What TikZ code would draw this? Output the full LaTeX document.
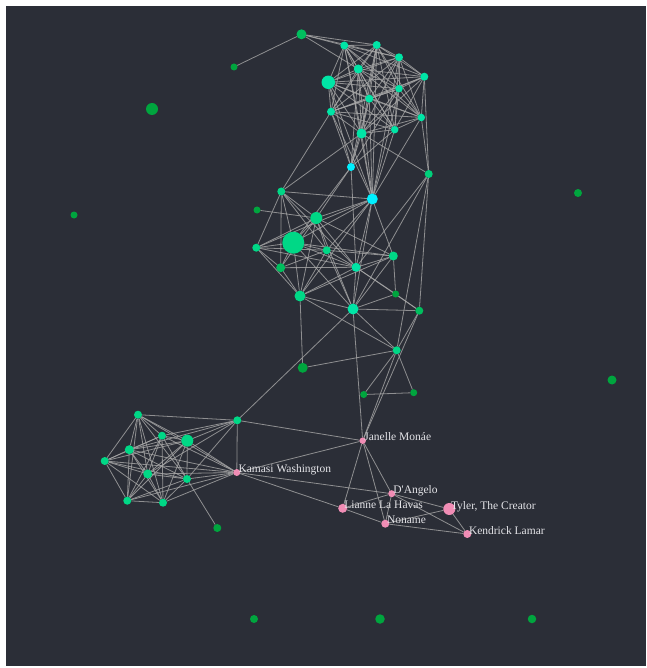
\documentclass[tikz,border=0pt]{standalone}
\usepackage{fontspec}
\setmainfont{Liberation Serif}
\pgfdeclarelayer{bglayer}
\pgfdeclarelayer{edgelayer}
\pgfsetlayers{bglayer,edgelayer,main}
\definecolor{bg}{HTML}{2B2E37}
\definecolor{tealn}{HTML}{00E5A6}
\definecolor{greenn}{HTML}{00D886}
\definecolor{midn}{HTML}{00BF5E}
\definecolor{darkn}{HTML}{00A53E}
\definecolor{cyann}{HTML}{00F0FF}
\definecolor{pinkn}{HTML}{F08DB5}
\definecolor{edgec}{HTML}{A8A8A8}
\definecolor{txt}{HTML}{E4E4E8}
\begin{document}
\begin{tikzpicture}[x=1pt,y=-1pt,
  nd/.style={circle,inner sep=0pt,outer sep=0pt,minimum size=#1,draw=none},
  edge/.style={draw=edgec,line width=0.8pt,opacity=0.8},
  lbl/.style={anchor=base west,inner sep=0pt,text=txt,font=\fontsize{11.5}{13}\selectfont}]
\useasboundingbox (0,0) rectangle (646,668);
\begin{pgfonlayer}{bglayer}
\fill[white] (0,0) rectangle (646,668);
\fill[bg] (6,6) rectangle (646,666);
\end{pgfonlayer}
% isolated
\node[nd=7pt,fill=darkn] (i1) at (234,67) {};
\node[nd=12pt,fill=darkn] (i2) at (152,109) {};
\node[nd=7pt,fill=darkn] (i3) at (74,215) {};
\node[nd=8pt,fill=darkn] (i4) at (578,193) {};
\node[nd=9pt,fill=darkn] (i5) at (612,380) {};
\node[nd=8pt,fill=darkn] (i6) at (254,619) {};
\node[nd=9.5pt,fill=darkn] (i7) at (380,619) {};
\node[nd=8.5pt,fill=darkn] (i8) at (532,619) {};
% top cluster
\node[nd=10pt,fill=midn] (a1) at (301.5,34.3) {};
\node[nd=8pt,fill=tealn] (a2) at (344.3,45.5) {};
\node[nd=8pt,fill=tealn] (a3) at (376.7,45) {};
\node[nd=8pt,fill=tealn] (a4) at (399,57.3) {};
\node[nd=8pt,fill=tealn] (a5) at (424.3,76.7) {};
\node[nd=13.5pt,fill=tealn] (a6) at (328.3,82.3) {};
\node[nd=9pt,fill=tealn] (a7) at (358.3,69) {};
\node[nd=7.5pt,fill=tealn] (a8) at (399,88.7) {};
\node[nd=8pt,fill=tealn] (a9) at (369.3,98.7) {};
\node[nd=8pt,fill=tealn] (a10) at (331,111.7) {};
\node[nd=7.5pt,fill=tealn] (a11) at (421.3,117.5) {};
\node[nd=10pt,fill=tealn] (a12) at (361.5,133.5) {};
\node[nd=7.5pt,fill=tealn] (a13) at (394.7,129.7) {};
% middle cluster
\node[nd=8pt,fill=cyann] (b1) at (351,167) {};
\node[nd=11pt,fill=cyann] (b2) at (372.3,199) {};
\node[nd=8pt,fill=greenn!85!darkn] (b3) at (428.7,174) {};
\node[nd=8pt,fill=greenn] (b4) at (281.3,191.5) {};
\node[nd=7pt,fill=darkn] (b5) at (257,210) {};
\node[nd=12pt,fill=greenn] (b6) at (316.3,218) {};
\node[nd=22pt,fill=greenn] (b7) at (293.3,242.7) {};
\node[nd=8pt,fill=greenn] (b8) at (256.3,247.7) {};
\node[nd=8pt,fill=greenn] (b9) at (326.7,250.3) {};
\node[nd=9pt,fill=greenn] (b10) at (393.3,256) {};
\node[nd=9pt,fill=midn] (b11) at (280.7,267.7) {};
\node[nd=9pt,fill=tealn] (b12) at (356,267.3) {};
\node[nd=11pt,fill=greenn] (b13) at (300,296) {};
\node[nd=7pt,fill=darkn] (b14) at (395.7,294) {};
\node[nd=11pt,fill=tealn] (b15) at (353,309) {};
\node[nd=8pt,fill=midn] (b16) at (419.3,310.7) {};
\node[nd=8pt,fill=greenn] (c1) at (396.7,350.3) {};
\node[nd=10pt,fill=darkn] (c2) at (302.7,367.8) {};
\node[nd=7pt,fill=darkn] (c3) at (363.7,394.5) {};
\node[nd=7pt,fill=darkn] (c4) at (413.7,392.7) {};
% left cluster
\node[nd=8pt,fill=greenn] (d1) at (138,414.7) {};
\node[nd=8pt,fill=greenn] (d2) at (237.3,420.3) {};
\node[nd=8pt,fill=greenn] (d3) at (162,435.7) {};
\node[nd=12pt,fill=greenn] (d4) at (187.3,440.7) {};
\node[nd=9pt,fill=greenn] (d5) at (129.3,449.7) {};
\node[nd=8pt,fill=greenn] (d6) at (104.7,461) {};
\node[nd=9pt,fill=greenn] (d7) at (147.7,474) {};
\node[nd=8pt,fill=greenn] (d8) at (187,479) {};
\node[nd=8pt,fill=greenn] (d9) at (127.3,500.7) {};
\node[nd=8pt,fill=greenn] (d10) at (163,502.7) {};
\node[nd=8pt,fill=darkn] (d11) at (217.3,528) {};
% pink
\node[nd=6.5pt,fill=pinkn] (jan) at (362.7,440.7) {};
\node[nd=7pt,fill=pinkn] (kam) at (236.8,472.5) {};
\node[nd=7pt,fill=pinkn] (dan) at (391.7,493.7) {};
\node[nd=9pt,fill=pinkn] (lia) at (342.7,508.3) {};
\node[nd=12pt,fill=pinkn] (tyl) at (449.3,509) {};
\node[nd=8pt,fill=pinkn] (non) at (385.3,523.7) {};
\node[nd=8pt,fill=pinkn] (ken) at (467.3,534) {};
% edges
\begin{pgfonlayer}{edgelayer}
\foreach \i in {2,...,12}{
  \pgfmathtruncatemacro\s{\i+1}
  \foreach \j in {\s,...,13}{\draw[edge] (a\i) -- (a\j);}}
\foreach \i in {1,3,4,5,6,7,8,9,10}{
  \foreach \j in {1,3,4,5,6,7,8,9,10}{
    \ifnum\i<\j \draw[edge] (d\i) -- (d\j);\fi}}
\foreach \a/\b in {a1/a2,a1/a3,a1/a4,a1/a7,a1/i1,
  b1/a6,b1/a7,b1/a9,b1/a10,b1/a12,b1/a13,b1/a8,b1/a3,
  b2/a2,b2/a3,b2/a4,b2/a6,b2/a7,b2/a8,b2/a9,b2/a10,b2/a12,b2/a13,b2/a11,
  b3/a5,b3/a11,b3/a12,b3/b12,b3/b16,b3/c1,b3/b15,
  b4/a10,b4/a12,b4/b2,b4/b6,b4/b7,b4/b8,b4/b11,b4/b9,b4/b12,
  b5/b6,
  b6/b1,b6/b2,b6/b7,b6/b8,b6/b9,b6/b11,b6/b12,b6/b13,b6/b15,b6/b10,
  b7/b1,b7/b2,b7/b8,b7/b9,b7/b11,b7/b12,b7/b13,b7/b10,b7/b15,
  b8/b2,b8/b9,b8/b11,b8/b13,b8/b12,
  b9/b2,b9/b12,b9/b15,b9/b10,b9/b11,b9/b13,
  b10/b2,b10/b12,b10/b14,b10/b15,b10/b13,
  b11/b12,b11/b13,
  b12/b1,b12/b2,b12/b13,b12/b14,b12/b16,b12/b15,
  b13/b15,b13/c1,b13/c2,b13/b2,
  b15/b16,b15/b14,b15/c1,b15/d2,b15/jan,b15/b2,
  b16/c1,b16/b14,b16/jan,
  c1/c3,c1/c4,c1/c2,c1/jan,c3/c4,
  d2/d1,d2/kam,d2/jan,d2/d3,d2/d4,d2/d5,d2/d7,d2/d8,
  kam/d1,kam/d3,kam/d4,kam/d5,kam/d6,kam/d7,kam/d8,kam/d9,kam/d10,
  d8/d11,
  kam/jan,kam/dan,kam/lia,
  jan/lia,jan/dan,jan/non,
  dan/lia,dan/non,dan/tyl,dan/ken,
  lia/non,non/tyl,non/ken,tyl/ken}
  {\draw[edge] (\a) -- (\b);}
\end{pgfonlayer}
% labels
\node[lbl] at ([xshift=1.5pt]jan.center) {Janelle Monáe};
\node[lbl] at ([xshift=1.5pt]kam.center) {Kamasi Washington};
\node[lbl] at ([xshift=1.5pt]dan.center) {D\textquotesingle Angelo};
\node[lbl] at ([xshift=1.5pt]lia.center) {Lianne La Havas};
\node[lbl] at ([xshift=1.5pt]tyl.center) {Tyler, The Creator};
\node[lbl] at ([xshift=1.5pt]non.center) {Noname};
\node[lbl] at ([xshift=1.5pt]ken.center) {Kendrick Lamar};
\end{tikzpicture}
\end{document}
